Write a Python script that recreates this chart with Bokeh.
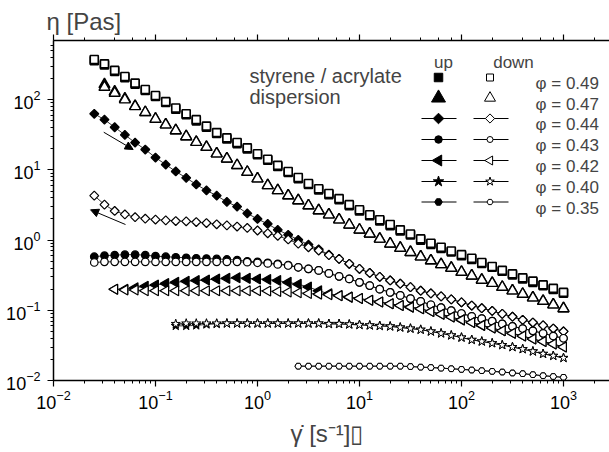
import math
from bokeh.plotting import figure
from bokeh.models import Label, Arrow, NormalHead, LogAxis, Title
from bokeh.embed import file_html
from bokeh.resources import INLINE

# ---------------- data ----------------
RATE = [0.0251, 0.0316, 0.0398, 0.0501, 0.0631, 0.0794, 0.1, 0.126, 0.158, 0.2,
        0.251, 0.316, 0.398, 0.501, 0.631, 0.794, 1.0, 1.26, 1.58, 2.0,
        2.51, 3.16, 3.98, 5.01, 6.31, 7.94, 10.0, 12.6, 15.8, 20.0,
        25.1, 31.6, 39.8, 50.1, 63.1, 79.4, 100, 126, 158, 200,
        251, 316, 398, 501, 631, 794, 1000]

rate_049 = RATE
eta_049_up = [360, 312, 252, 206, 166, 135, 111, 91, 73, 61, 50, 40.5, 33, 27.6, 23.7, 19.9,
              16.4, 13.7, 11.2, 9.2, 7.5, 6.2, 5.2, 4.45, 3.75, 3.1, 2.6, 2.22, 1.88, 1.61,
              1.35, 1.18, 1.0, 0.87, 0.76, 0.68, 0.60, 0.53, 0.465, 0.41, 0.36, 0.32, 0.28,
              0.25, 0.225, 0.198, 0.175]
eta_049_down = [374, 324, 262, 214, 172, 140, 115, 94, 76, 63, 52, 42, 34, 28.6, 24.6, 20.6,
                17.0, 14.2, 11.6, 9.5, 7.8, 6.4, 5.4, 4.6, 3.9, 3.2, 2.7, 2.3, 1.95, 1.67,
                1.40, 1.22, 1.04, 0.90, 0.79, 0.70, 0.62, 0.55, 0.48, 0.42, 0.37, 0.33, 0.29,
                0.26, 0.23, 0.205, 0.18]

rate_047 = RATE[1:]
eta_047_up = [165, 130, 103, 81, 66, 53, 44, 36.4, 29.9, 24.8, 21.1, 17, 14.4, 11.6, 9.3,
              7.5, 6.0, 5.1, 4.3, 3.66, 3.1, 2.64, 2.3, 1.95, 1.65, 1.40, 1.23, 1.04, 0.885,
              0.77, 0.67, 0.58, 0.51, 0.45, 0.40, 0.35, 0.31, 0.27, 0.243, 0.214, 0.19, 0.17,
              0.151, 0.135, 0.12, 0.106]
eta_047_down = [151, 124, 100, 80, 66, 53, 44, 36.4, 29.9, 24.8, 21.1, 17, 14.4, 11.6, 9.3,
                7.5, 6.0, 5.1, 4.3, 3.66, 3.1, 2.64, 2.3, 1.95, 1.65, 1.40, 1.23, 1.04, 0.885,
                0.77, 0.67, 0.58, 0.51, 0.45, 0.40, 0.35, 0.31, 0.27, 0.243, 0.214, 0.19, 0.17,
                0.151, 0.135, 0.12, 0.106]

rate_044 = RATE
eta_044_up = [63, 52, 40.5, 31.5, 24.5, 19.5, 15.0, 11.9, 9.5, 7.7, 6.2, 5.1, 4.3, 3.5, 3.0,
              2.4, 2.0, 1.7, 1.40, 1.19, 1.01, 0.86, 0.74, 0.62, 0.54, 0.46, 0.39, 0.34, 0.30,
              0.266, 0.239, 0.214, 0.19, 0.174, 0.158, 0.143, 0.130, 0.117, 0.107, 0.098,
              0.089, 0.081, 0.073, 0.067, 0.061, 0.055, 0.050]
eta_044_down = [4.3, 3.2, 2.6, 2.32, 2.12, 2.02, 1.96, 1.91, 1.87, 1.85, 1.81, 1.75, 1.68, 1.62,
                1.56, 1.49, 1.37, 1.25, 1.15, 1.02, 0.89, 0.79, 0.71, 0.61, 0.54, 0.46, 0.39,
                0.34, 0.30, 0.266, 0.239, 0.214, 0.19, 0.174, 0.158, 0.143, 0.130, 0.117,
                0.107, 0.098, 0.089, 0.081, 0.073, 0.067, 0.061, 0.055, 0.050]

rate_043 = RATE
eta_043_up = [0.58, 0.60, 0.61, 0.62, 0.62, 0.61, 0.59, 0.58, 0.57, 0.56, 0.55, 0.545, 0.54,
              0.53, 0.52, 0.50, 0.49, 0.475, 0.46, 0.44, 0.41, 0.39, 0.37, 0.335, 0.305, 0.28,
              0.25, 0.225, 0.20, 0.18, 0.163, 0.147, 0.134, 0.12, 0.109, 0.099, 0.090, 0.082,
              0.076, 0.070, 0.064, 0.059, 0.055, 0.051, 0.047, 0.043, 0.040]
eta_043_down = [0.48, 0.49, 0.49, 0.49, 0.49, 0.49, 0.49, 0.49, 0.49, 0.49, 0.49, 0.49, 0.49,
                0.49, 0.49, 0.485, 0.475, 0.465, 0.45, 0.435, 0.41, 0.39, 0.37, 0.335, 0.305,
                0.28, 0.25, 0.225, 0.20, 0.18, 0.163, 0.147, 0.134, 0.12, 0.109, 0.099, 0.090,
                0.082, 0.076, 0.070, 0.064, 0.059, 0.055, 0.051, 0.047, 0.043, 0.040]

rate_042 = RATE[2:]
eta_042_up = [0.20, 0.20, 0.21, 0.22, 0.23, 0.24, 0.25, 0.26, 0.265, 0.27, 0.28, 0.285, 0.29,
              0.285, 0.28, 0.275, 0.265, 0.25, 0.235, 0.215, 0.19, 0.172, 0.162, 0.154, 0.147,
              0.139, 0.131, 0.124, 0.117, 0.111, 0.105, 0.096, 0.088, 0.080, 0.073, 0.067,
              0.061, 0.056, 0.051, 0.047, 0.043, 0.039, 0.036, 0.033, 0.030]
eta_042_down = [0.20, 0.195, 0.195, 0.19, 0.19, 0.19, 0.19, 0.19, 0.19, 0.19, 0.19, 0.19, 0.19,
                0.19, 0.19, 0.188, 0.185, 0.182, 0.178, 0.174, 0.17, 0.166, 0.161, 0.154, 0.147,
                0.139, 0.131, 0.124, 0.117, 0.111, 0.105, 0.096, 0.088, 0.080, 0.073, 0.067,
                0.061, 0.056, 0.051, 0.047, 0.043, 0.039, 0.036, 0.033, 0.030]

rate_040 = RATE[8:]
eta_040_up = [0.060, 0.060, 0.061, 0.063, 0.064, 0.065, 0.065, 0.065, 0.065, 0.065, 0.065,
              0.065, 0.065, 0.065, 0.065, 0.064, 0.064, 0.063, 0.062, 0.061, 0.060, 0.059,
              0.057, 0.055, 0.053, 0.050, 0.047, 0.044, 0.041, 0.038, 0.036, 0.034, 0.032,
              0.030, 0.028, 0.026, 0.024, 0.0225, 0.021]
eta_040_down = [0.064, 0.065, 0.065, 0.065, 0.065, 0.065, 0.065, 0.065, 0.065, 0.065, 0.065,
                0.065, 0.065, 0.065, 0.065, 0.064, 0.064, 0.063, 0.062, 0.061, 0.060, 0.059,
                0.057, 0.055, 0.053, 0.050, 0.047, 0.044, 0.041, 0.038, 0.036, 0.034, 0.032,
                0.030, 0.028, 0.026, 0.024, 0.0225, 0.021]

rate_035 = RATE[20:]
eta_035_up = [0.016, 0.016, 0.016, 0.016, 0.016, 0.016, 0.016, 0.016, 0.016, 0.016, 0.016,
              0.0158, 0.0155, 0.0153, 0.015, 0.0147, 0.0144, 0.0141, 0.0138, 0.0135, 0.0132,
              0.0128, 0.0125, 0.0121, 0.0117, 0.0114, 0.0111]
eta_035_down = [0.016, 0.016, 0.016, 0.016, 0.016, 0.016, 0.016, 0.016, 0.016, 0.016, 0.016,
                0.0158, 0.0155, 0.0153, 0.015, 0.0147, 0.0144, 0.0141, 0.0138, 0.0135, 0.0132,
                0.0128, 0.0125, 0.0121, 0.0117, 0.0114, 0.0111]

PHI_LABELS = ["\u03c6 = 0.49", "\u03c6 = 0.47", "\u03c6 = 0.44", "\u03c6 = 0.43",
              "\u03c6 = 0.42", "\u03c6 = 0.40", "\u03c6 = 0.35"]

# ---------------- figure ----------------
FONT = "Liberation Sans"
L, T, B, R = 53, 40, 380, 609
XR = (0.01, 2825)
YR = (0.01, 697)

p = figure(width=609, height=452, x_axis_type="log", y_axis_type="log",
           x_range=XR, y_range=YR,
           output_backend="svg", toolbar_location=None,
           min_border_left=L, min_border_right=0, min_border_top=T,
           min_border_bottom=452 - B)
p.outline_line_color = None
p.xgrid.visible = False
p.ygrid.visible = False
p.background_fill_color = "white"
p.border_fill_color = "white"

bottom_axis = p.below[0]
left_axis = p.left[0]
top_axis = LogAxis()
p.add_layout(top_axis, "above")
for ax in [bottom_axis, left_axis, top_axis]:
    ax.axis_line_color = "black"
    ax.axis_line_width = 1.5
    ax.major_tick_line_color = "black"
    ax.minor_tick_line_color = "black"
    ax.major_tick_line_width = 1.2
    ax.minor_tick_line_width = 1
    ax.major_tick_in = 0
    ax.major_tick_out = 6
    ax.minor_tick_in = 0
    ax.minor_tick_out = 3
    ax.major_label_text_font = FONT
    ax.major_label_text_color = "black"

bottom_axis.major_label_text_font_size = "18px"
bottom_axis.major_label_standoff = 3
left_axis.major_label_text_font_size = "18px"
left_axis.major_label_standoff = 7
top_axis.major_label_text_font_size = "1px"
top_axis.major_label_text_color = None
top_axis.major_label_text_alpha = 0
top_axis.major_label_standoff = 0

# axis titles in the side panels
p.title.text = "\u03b7  [Pas]"
p.title.align = "left"
p.title.offset = -7
p.title.text_font = FONT
p.title.text_font_size = "24px"
p.title.text_font_style = "normal"
p.title.standoff = 0

p.add_layout(Title(text="\u03b3\u0307 [s\u207b\u00b9]\u25af", align="left", offset=237,
                   text_font=FONT, text_font_size="24px", text_font_style="normal",
                   standoff=12), "below")

# pixel -> data helpers for the legend block
LX0, LX1 = math.log10(XR[0]), math.log10(XR[1])
LY0, LY1 = math.log10(YR[0]), math.log10(YR[1])

def dx(px):
    return 10 ** (LX0 + (px - L) / (R - L) * (LX1 - LX0))

def dy(py):
    return 10 ** (LY0 + (B - py) / (B - T) * (LY1 - LY0))

# ---------------- series ----------------
# (rates, up, down, marker, size, angle, connect, line width, legend up size, legend down size)
series = [
    (rate_049, eta_049_up, eta_049_down, "square", 8, 0, False, 1.6, 8.5, 7),
    (rate_047, eta_047_up, eta_047_down, "triangle", 11, 0, False, 1.4, 14, 11),
    (rate_044, eta_044_up, eta_044_down, "square", 6.3, 45, True, 1.2, 7.5, 6.5),
    (rate_043, eta_043_up, eta_043_down, "circle", 7.5, 0, True, 1.2, 7.5, 6),
    (rate_042, eta_042_up, eta_042_down, "triangle", 10, 90, True, 1.2, 11, 9),
    (rate_040, eta_040_up, eta_040_down, "star", 9.5, 0, True, 1.0, 11, 9),
    (rate_035, eta_035_up, eta_035_down, "hex", 6.5, 0, True, 1.0, 7.5, 6),
]

for (xr, yu, yd, mk, sz, ang, with_line, lw, lsu, lsd) in series:
    if with_line:
        p.line(xr, yu, line_color="black", line_width=0.8)
    p.scatter(xr, yu, marker=mk, size=sz, angle=ang, angle_units="deg",
              fill_color="black", line_color="black", line_width=lw)
    if with_line:
        p.line(xr, yd, line_color="black", line_width=0.8)
    p.scatter(xr, yd, marker=mk, size=sz, angle=ang, angle_units="deg",
              fill_color="white", line_color="black", line_width=lw)

# ---------------- legend block (up / down keys) ----------------
ROW_Y = [77, 97.5, 118, 139, 160, 181, 201.5]
UP_X, DOWN_X = 438, 489.5
for i, (xr, yu, yd, mk, sz, ang, with_line, lw, lsu, lsd) in enumerate(series):
    yk = dy(ROW_Y[i])
    if with_line:
        p.line([dx(421), dx(456)], [yk, yk], line_color="black", line_width=1)
        p.line([dx(473), dx(508)], [yk, yk], line_color="black", line_width=1)
    p.scatter([dx(UP_X)], [yk], marker=mk, size=lsu, angle=ang, angle_units="deg",
              fill_color="black", line_color="black", line_width=1)
    p.scatter([dx(DOWN_X)], [yk], marker=mk, size=lsd, angle=ang, angle_units="deg",
              fill_color="white", line_color="black", line_width=1)
    p.add_layout(Label(x=535 - L, y=B - ROW_Y[i] - 6, x_units="screen", y_units="screen",
                       text=PHI_LABELS[i], text_font=FONT, text_font_size="17px",
                       text_baseline="alphabetic", text_align="left"))

def add_text(text, x, y, size, align="left"):
    p.add_layout(Label(x=x - L, y=B - y, x_units="screen", y_units="screen",
                       text=text, text_font=FONT, text_font_size=size,
                       text_align=align, text_baseline="alphabetic"))

add_text("up", 443, 62, "17px", align="center")
add_text("down", 513, 62, "17px", align="center")
add_text("styrene / acrylate", 249, 75, "20px")
add_text("dispersion", 249, 96, "20px")

# arrows
p.add_layout(Arrow(x_start=0.0311, y_start=34.4, x_end=0.0604, y_end=19.5,
                   line_color="black", line_width=1,
                   end=NormalHead(size=8, fill_color="black", line_color="black")))
p.add_layout(Arrow(x_start=0.0508, y_start=1.667, x_end=0.0231, y_end=2.70,
                   line_color="black", line_width=1,
                   end=NormalHead(size=8, fill_color="black", line_color="black")))

open("out.html", "w").write(file_html(p, INLINE))
